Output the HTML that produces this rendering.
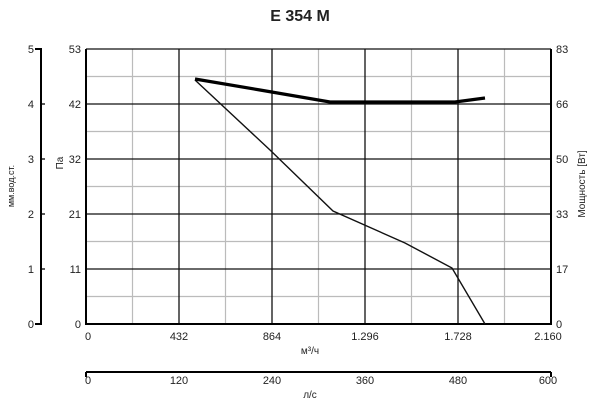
<!DOCTYPE html>
<html><head><style>body{margin:0;background:#fff}</style></head><body>
<svg width="600" height="406" xmlns="http://www.w3.org/2000/svg" font-family="Liberation Sans, sans-serif" font-size="11" fill="#222">
<text x="300" y="21" font-size="16" font-weight="bold" text-anchor="middle">E 354 M</text>
<g stroke="#bbb" stroke-width="1.2">
<line x1="132.5" y1="49" x2="132.5" y2="324"/><line x1="225.5" y1="49" x2="225.5" y2="324"/><line x1="318.5" y1="49" x2="318.5" y2="324"/><line x1="411.5" y1="49" x2="411.5" y2="324"/><line x1="504.5" y1="49" x2="504.5" y2="324"/>
<line x1="86" y1="76.5" x2="551" y2="76.5"/><line x1="86" y1="131.5" x2="551" y2="131.5"/><line x1="86" y1="186.5" x2="551" y2="186.5"/><line x1="86" y1="241.5" x2="551" y2="241.5"/><line x1="86" y1="296.5" x2="551" y2="296.5"/>
</g>
<g stroke="#111" stroke-width="1.3">
<line x1="179" y1="49" x2="179" y2="324"/><line x1="272" y1="49" x2="272" y2="324"/><line x1="365" y1="49" x2="365" y2="324"/><line x1="458" y1="49" x2="458" y2="324"/>
<line x1="86" y1="49" x2="551" y2="49"/><line x1="86" y1="104" x2="551" y2="104"/><line x1="86" y1="159" x2="551" y2="159"/><line x1="86" y1="214" x2="551" y2="214"/><line x1="86" y1="269" x2="551" y2="269"/>
</g>
<g stroke="#000" stroke-width="2">
<line x1="86" y1="49" x2="86" y2="325"/><line x1="551" y1="49" x2="551" y2="325"/><line x1="85" y1="324" x2="552" y2="324"/>
<path d="M35 49H41V324H35" fill="none"/>
<line x1="86" y1="372" x2="551" y2="372"/>
<line x1="86" y1="372" x2="86" y2="377"/><line x1="551" y1="372" x2="551" y2="377"/>
</g>
<g stroke="#000" stroke-width="1.3">
<line x1="41" y1="104" x2="45" y2="104"/><line x1="41" y1="159" x2="45" y2="159"/><line x1="41" y1="214" x2="45" y2="214"/><line x1="41" y1="269" x2="45" y2="269"/>
</g>
<polyline points="195,80 270,150 333,211 405,243 452,268 485,324" fill="none" stroke="#111" stroke-width="1.4"/>
<polyline points="195,79 260,90 330,102 400,102 455,102 485,98" fill="none" stroke="#000" stroke-width="3.2"/>
<g text-anchor="end">
<text x="34" y="53">5</text><text x="34" y="108">4</text><text x="34" y="163">3</text><text x="34" y="218">2</text><text x="34" y="273">1</text><text x="34" y="328">0</text>
<text x="81" y="53">53</text><text x="81" y="108">42</text><text x="81" y="163">32</text><text x="81" y="218">21</text><text x="81" y="273">11</text><text x="81" y="328">0</text>
</g>
<g>
<text x="556" y="53">83</text><text x="556" y="108">66</text><text x="556" y="163">50</text><text x="556" y="218">33</text><text x="556" y="273">17</text><text x="556" y="328">0</text>
</g>
<g text-anchor="middle">
<text x="88" y="340">0</text><text x="179" y="340">432</text><text x="272" y="340">864</text><text x="365" y="340">1.296</text><text x="458" y="340">1.728</text><text x="548" y="340">2.160</text>
<text x="310" y="354" font-size="10">м³/ч</text>
<text x="88" y="384">0</text><text x="179" y="384">120</text><text x="272" y="384">240</text><text x="365" y="384">360</text><text x="458" y="384">480</text><text x="548" y="384">600</text>
<text x="310" y="398" font-size="10">л/с</text>
</g>
<text transform="translate(14,186) rotate(-90)" text-anchor="middle" font-size="9">мм.вод.ст.</text>
<text transform="translate(63,163) rotate(-90)" text-anchor="middle" font-size="10">Па</text>
<text transform="translate(585,184) rotate(-90)" text-anchor="middle" font-size="10">Мощность [Вт]</text>
</svg>
</body></html>
